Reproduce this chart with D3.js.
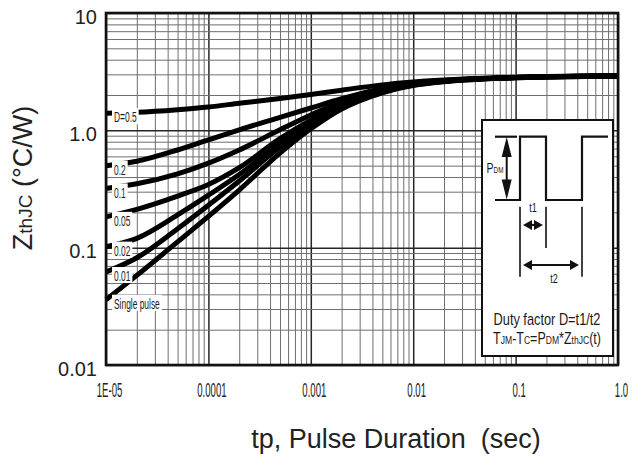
<!DOCTYPE html>
<html><head><meta charset="utf-8">
<script src="https://cdn.jsdelivr.net/npm/d3@7"></script>
<style>
body{margin:0;background:#fff}
svg{display:block}
text{font-family:"Liberation Sans",Arial,Helvetica,sans-serif;fill:#1a1a1a}
</style>
</head><body>
<svg id="chart" width="632" height="462"></svg>
<script>
// ---------- data ----------
const pulseTimes = [1e-5,2e-5,5e-5,1e-4,2e-4,5e-4,1e-3,2e-3,5e-3,1e-2,2e-2,5e-2,0.1,0.2,0.5,1];
const seriesNames = ["D=0.5","0.2","0.1","0.05","0.02","0.01","Single pulse"];
const zD050  = [1.40,1.425,1.50,1.58,1.70,1.87,2.02,2.20,2.44,2.58,2.68,2.78,2.83,2.87,2.90,2.92];
const zD020  = [0.50,0.545,0.68,0.83,1.01,1.29,1.55,1.86,2.28,2.52,2.66,2.77,2.82,2.86,2.90,2.92];
const zD010  = [0.32,0.35,0.425,0.525,0.68,1.01,1.35,1.76,2.24,2.50,2.65,2.77,2.82,2.86,2.89,2.91];
const zD005  = [0.183,0.212,0.275,0.345,0.48,0.85,1.22,1.66,2.18,2.47,2.63,2.76,2.82,2.86,2.89,2.91];
const zD002  = [0.102,0.12,0.19,0.28,0.42,0.78,1.16,1.62,2.15,2.45,2.62,2.76,2.82,2.86,2.89,2.90];
const zD001  = [0.062,0.082,0.145,0.23,0.37,0.72,1.10,1.57,2.12,2.43,2.61,2.75,2.81,2.85,2.88,2.90];
const zSingle= [0.036,0.058,0.112,0.185,0.31,0.64,1.03,1.52,2.09,2.41,2.60,2.74,2.80,2.85,2.88,2.90];
const xTickValues = [1e-5,1e-4,1e-3,1e-2,1e-1,1];
const xTickLabels = ["1E-05","0.0001","0.001","0.01","0.1","1.0"];
const yTickValues = [0.01,0.1,1,10];
const yTickLabels = ["0.01","0.1","1.0","10"];

const allSeries = [zD050,zD020,zD010,zD005,zD002,zD001,zSingle];

// ---------- layout ----------
const svg = d3.select("#chart");
const M = {left:106, top:13, right:618, bottom:365};
const x = d3.scaleLog().domain([1e-5,1]).range([M.left, M.right]);
const y = d3.scaleLog().domain([0.01,10]).range([M.bottom, M.top]);
const isMajor = v => Math.abs(Math.log10(v) - Math.round(Math.log10(v))) < 1e-6;

// grid
const gx = svg.append("g").attr("transform",`translate(0,${M.bottom})`)
  .call(d3.axisBottom(x).ticks(40).tickSize(-(M.bottom-M.top)).tickFormat(""));
gx.select(".domain").remove();
gx.selectAll(".tick line")
  .attr("stroke", d => isMajor(d) ? "#262626" : "#6e6e6e")
  .attr("stroke-width", d => isMajor(d) ? 1.5 : 1);
const gy = svg.append("g").attr("transform",`translate(${M.left},0)`)
  .call(d3.axisLeft(y).ticks(30).tickSize(-(M.right-M.left)).tickFormat(""));
gy.select(".domain").remove();
gy.selectAll(".tick line")
  .attr("stroke", d => isMajor(d) ? "#262626" : "#6e6e6e")
  .attr("stroke-width", d => isMajor(d) ? 1.5 : 1);

// axes labels
const ax = svg.append("g").attr("transform",`translate(0,${M.bottom})`)
  .call(d3.axisBottom(x).tickValues(xTickValues).tickFormat((d,i)=>xTickLabels[i]).tickSize(0).tickPadding(18));
ax.select(".domain").remove();
ax.selectAll("text").attr("font-size",20).attr("font-family",null)
  .attr("transform","translate(3,0) scale(0.48,1)").style("fill","#222");

const ay = svg.append("g").attr("transform",`translate(${M.left},0)`)
  .call(d3.axisLeft(y).tickValues(yTickValues).tickFormat((d,i)=>yTickLabels[i]).tickSize(0).tickPadding(9));
ay.select(".domain").remove();
ay.selectAll("text").attr("font-size",20).attr("font-family",null).attr("dy","0.5em").style("fill","#222");

// curves
const line = d3.line().x((d,i)=>x(pulseTimes[i])).y(d=>y(d)).curve(d3.curveMonotoneX);
svg.append("g").selectAll("path").data(allSeries).join("path")
  .attr("d", line).attr("fill","none").attr("stroke","#000").attr("stroke-width",5)
  .attr("stroke-linecap","butt");

// curve labels with white backing
const lab = svg.append("g");
allSeries.forEach((s,i)=>{
  const cy = y(s[0]);
  const g = lab.append("g");
  const rect = g.append("rect").attr("fill","#fff");
  const t = g.append("text").text(seriesNames[i]).attr("font-size",14.5)
    .attr("transform",`translate(${x(1e-5)+8},${cy+4}) scale(0.58,1)`)
    .attr("dy","0.36em");
  const w = t.node().getComputedTextLength()*0.58;
  rect.attr("x", x(1e-5)+6).attr("y", cy-5).attr("width", w+4).attr("height", 16);
});

// plot border
svg.append("rect").attr("x",M.left).attr("y",M.top).attr("width",M.right-M.left).attr("height",M.bottom-M.top)
  .attr("fill","none").attr("stroke","#111").attr("stroke-width",2.6);

// axis titles
const yt = svg.append("text").attr("transform","translate(32,178) rotate(-90)").attr("text-anchor","middle")
  .attr("font-size",27).style("fill","#222");
yt.append("tspan").text("Z");
yt.append("tspan").attr("font-size",19).text("thJC");
yt.append("tspan").text(" (\u00B0C/W)");

svg.append("text").attr("x",396).attr("y",448).attr("text-anchor","middle").attr("font-size",27)
  .style("white-space","pre").style("fill","#222").text("tp, Pulse Duration  (sec)");

// inset
const bx=482, by=120, bw=131, bh=236;
const ins = svg.append("g").attr("transform",`translate(${bx},${by})`);
ins.append("rect").attr("width",bw).attr("height",bh).attr("fill","#fff").attr("stroke","#111").attr("stroke-width",2);
ins.append("path").attr("d","M13,80H38V16.7H64V80H100V16.7H126").attr("fill","none").attr("stroke","#111").attr("stroke-width",2.2);
ins.append("path").attr("d","M13,16.7H35").attr("stroke","#111").attr("stroke-width",2.2);
function vArrow(cx,y1,y2){
  ins.append("line").attr("x1",cx).attr("x2",cx).attr("y1",y1+10).attr("y2",y2-10).attr("stroke","#111").attr("stroke-width",2);
  ins.append("path").attr("d",`M${cx},${y1}L${cx-5},${y1+20}L${cx+5},${y1+20}Z`).attr("fill","#111");
  ins.append("path").attr("d",`M${cx},${y2}L${cx-5},${y2-20}L${cx+5},${y2-20}Z`).attr("fill","#111");
}
function hArrow(cy,x1,x2){
  ins.append("line").attr("x1",x1+6).attr("x2",x2-6).attr("y1",cy).attr("y2",cy).attr("stroke","#111").attr("stroke-width",2.2);
  ins.append("path").attr("d",`M${x1},${cy}L${x1+9},${cy-5}L${x1+9},${cy+5}Z`).attr("fill","#111");
  ins.append("path").attr("d",`M${x2},${cy}L${x2-9},${cy-5}L${x2-9},${cy+5}Z`).attr("fill","#111");
}
vArrow(24.7,17,79.5);
[[38,86.7,156.7],[64,86.7,128],[100,86.7,156.7]].forEach(d=>
  ins.append("line").attr("x1",d[0]).attr("x2",d[0]).attr("y1",d[1]).attr("y2",d[2]).attr("stroke","#111").attr("stroke-width",1.6));
hArrow(105,41,61);
hArrow(145,41,97);
function ntext(px,py,f,size,parts){
  const t = ins.append("text").attr("transform",`translate(${px},${py}) scale(${f},1)`).attr("text-anchor","middle").attr("font-size",size);
  parts.forEach(p=>t.append("tspan").attr("font-size",p[1]||null).text(p[0]));
  return t;
}
ntext(13,53,0.7,15,[["P"],["DM",9]]);
ntext(51,92,0.7,13,[["t1"]]);
ntext(72,163,0.7,13,[["t2"]]);
ntext(65,205,0.8,16,[["Duty factor D=t1/t2"]]);
ntext(65,224,0.78,16,[["T"],["JM",11],["-T"],["C",11],["=P"],["DM",11],["*Z"],["thJC",11],["(t)"]]);
</script>
</body></html>
